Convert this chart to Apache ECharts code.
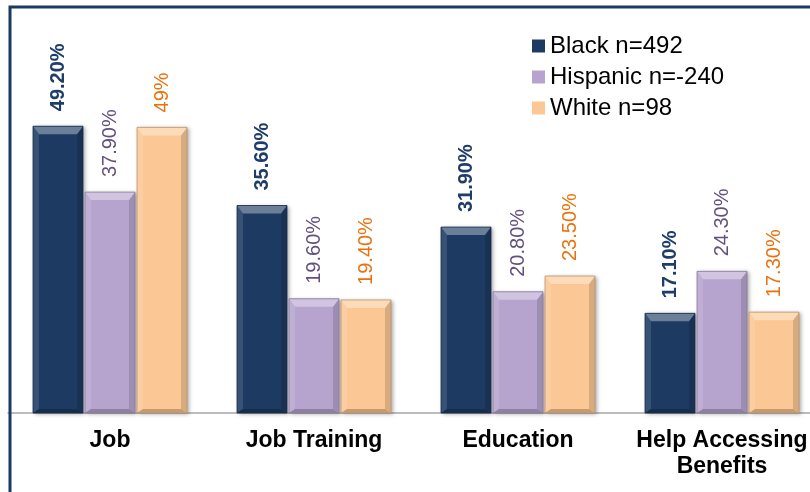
<!DOCTYPE html>
<html>
<head>
<meta charset="utf-8">
<script src="https://cdn.jsdelivr.net/npm/echarts@6/dist/echarts.min.js"></script>
<style>
  html, body { margin: 0; padding: 0; background: #ffffff; }
  #chart { width: 810px; height: 492px; }
</style>
</head>
<body>
<div id="chart"></div>
<script>
// Service needs by group (percent of respondents)
const categories = ['Job', 'Job Training', 'Education', 'Help Accessing\nBenefits'];
const seriesNames = ['Black n=492', 'Hispanic n=-240', 'White n=98'];
const blackValues = [49.2, 35.6, 31.9, 17.1];
const hispanicValues = [37.9, 19.6, 20.8, 24.3];
const whiteValues = [49, 19.4, 23.5, 17.3];

const barColors = ['#1D3A62', '#B6A4CF', '#FBC794'];
const labelColors = ['#1F3D69', '#64507F', '#E8720E'];
const labelWeights = ['bold', 'normal', 'normal'];
const valueSets = [blackValues, hispanicValues, whiteValues];

const BAR_W = 50, BAR_GAP = 2;

function mix(hex, target, t) {
  const a = parseInt(hex.slice(1), 16);
  const r = (a >> 16) & 255, g = (a >> 8) & 255, b = a & 255;
  const m = v => Math.round(v + (target - v) * t);
  return 'rgb(' + m(r) + ',' + m(g) + ',' + m(b) + ')';
}

function fmt(v) {
  return Number.isInteger(v) ? v + '%' : v.toFixed(2) + '%';
}

const barSeries = valueSets.map((vals, s) => ({
  name: seriesNames[s],
  type: 'bar',
  data: vals,
  barWidth: BAR_W,
  barGap: (BAR_GAP / BAR_W * 100) + '%',
  z: 2,
  itemStyle: {
    color: barColors[s],
    shadowColor: 'rgba(0,0,0,0.35)',
    shadowBlur: 4,
    shadowOffsetX: 2,
    shadowOffsetY: 1
  },
  label: {
    show: true,
    position: 'top',
    rotate: 90,
    align: 'left',
    verticalAlign: 'middle',
    distance: 14,
    offset: [1, 0],
    fontFamily: 'Liberation Sans, Arial, sans-serif',
    fontSize: 20,
    fontWeight: labelWeights[s],
    color: labelColors[s],
    formatter: p => fmt(p.value)
  }
}));

// bevel facets drawn on top of each bar, from the same values
const bevelData = [];
valueSets.forEach((vals, s) => vals.forEach((v, i) => bevelData.push([i, v, s])));

const bevelSeries = {
  type: 'custom',
  silent: true,
  z: 3,
  data: bevelData,
  renderItem: function (params, api) {
    const i = api.value(0), v = api.value(1), s = api.value(2);
    const topPt = api.coord([i, v]);
    const basePt = api.coord([i, 0]);
    const cx = topPt[0] + (s - 1) * (BAR_W + BAR_GAP);
    const x0 = cx - BAR_W / 2, x1 = cx + BAR_W / 2;
    const y0 = topPt[1], y1 = basePt[1];
    const t = 8, sd = 6, bt = 4;
    const c = barColors[s];
    const poly = (pts, fill) => ({ type: 'polygon', shape: { points: pts }, style: { fill: fill } });
    return {
      type: 'group',
      children: [
        poly([[x0, y0], [x0 + sd, y0 + t], [x0 + sd, y1 - bt], [x0, y1]], mix(c, 255, 0.12)),
        poly([[x1, y0], [x1, y1], [x1 - sd, y1 - bt], [x1 - sd, y0 + t]], mix(c, 0, 0.14)),
        poly([[x0, y1], [x0 + sd, y1 - bt], [x1 - sd, y1 - bt], [x1, y1]], mix(c, 0, 0.22)),
        poly([[x0, y0], [x1, y0], [x1 - sd, y0 + t], [x0 + sd, y0 + t]], mix(c, 255, 0.35)),
        { type: 'rect', shape: { x: x0, y: y0, width: BAR_W, height: y1 - y0 },
          style: { fill: 'none', stroke: mix(c, 0, 0.25), lineWidth: 0.8 } }
      ]
    };
  }
};

const chart = echarts.init(document.getElementById('chart'), null, { renderer: 'canvas' });
chart.setOption({
  backgroundColor: '#ffffff',
  animation: false,
  graphic: [{
    type: 'rect',
    z: 10,
    shape: { x: 10, y: 7, width: 900, height: 600 },
    style: { fill: 'none', stroke: '#1B3A63', lineWidth: 3 }
  }],
  legend: {
    data: seriesNames,
    orient: 'vertical',
    left: 527,
    top: 29,
    itemWidth: 13,
    itemHeight: 13,
    itemGap: 7,
    icon: 'rect',
    textStyle: {
      fontFamily: 'Liberation Sans, Arial, sans-serif',
      fontSize: 24,
      lineHeight: 24,
      color: '#000000'
    }
  },
  grid: { left: 8, width: 816, top: 5, bottom: 79, containLabel: false, outerBoundsMode: 'none' },
  xAxis: {
    type: 'category',
    data: categories,
    axisLine: { lineStyle: { color: '#A6A6A6', width: 1.5 } },
    axisTick: { show: false },
    axisLabel: {
      margin: 15,
      interval: 0,
      fontFamily: 'Liberation Sans, Arial, sans-serif',
      fontSize: 23,
      lineHeight: 26,
      fontWeight: 'bold',
      color: '#000000'
    }
  },
  yAxis: {
    type: 'value',
    min: 0,
    max: 70,
    show: false,
    splitLine: { show: false }
  },
  series: barSeries.concat([bevelSeries])
});
</script>
</body>
</html>
